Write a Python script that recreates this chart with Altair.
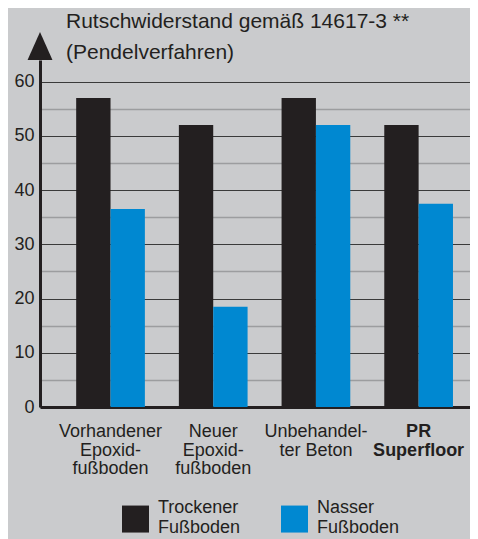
import altair as alt
import pandas as pd

categories = ["Vorhandener Epoxidfußboden", "Neuer Epoxidfußboden", "Unbehandelter Beton", "PR Superfloor"]
category_labels = ["Vorhandener\nEpoxid-\nfußboden", "Neuer\nEpoxid-\nfußboden", "Unbehandel-\nter Beton", "PR\nSuperfloor"]
category_bold = [False, False, False, True]
series = ["Trockener Fußboden", "Nasser Fußboden"]
dry_values = [57, 52, 57, 52]
wet_values = [36.5, 18.5, 52, 37.5]
y_ticks = [0, 5, 10, 15, 20, 25, 30, 35, 40, 45, 50, 55, 60]
title_lines = ["Rutschwiderstand gemäß 14617-3 **", "(Pendelverfahren)"]

FONT = "Liberation Sans"
INK = "#231f20"
BLUE = "#0088d1"
BG = "#cacbcd"

rows = []
for c, d, w in zip(categories, dry_values, wet_values):
    rows.append({"cat": c, "series": series[0], "value": d})
    rows.append({"cat": c, "series": series[1], "value": w})
bars_df = pd.DataFrame(rows)
labels_df = pd.DataFrame({"cat": categories, "label": category_labels, "bold": category_bold})
arrow_df = pd.DataFrame({"a": [0]})

W, H = 430, 347

x_scale = alt.Scale(domain=categories, paddingInner=0.331, paddingOuter=0.259, align=0.68)

bars = alt.Chart(bars_df).mark_bar().encode(
    x=alt.X("cat:N", sort=categories, scale=x_scale,
            axis=alt.Axis(title=None, labels=False, ticks=False, domain=True,
                          domainColor=INK, domainWidth=3, grid=False)),
    xOffset=alt.XOffset("series:N", sort=series, scale=alt.Scale(domain=series, paddingInner=0, paddingOuter=0)),
    y=alt.Y("value:Q", scale=alt.Scale(domain=[0, 64], nice=False),
            axis=alt.Axis(title=None, values=y_ticks, ticks=False, domain=True,
                          domainColor=INK, domainWidth=3,
                          labelExpr="datum.value % 10 === 0 ? datum.label : ''",
                          labelFont=FONT, labelFontSize=18, labelColor=INK, labelPadding=6,
                          grid=True,
                          gridColor={"condition": {"test": "datum.value % 10 === 0", "value": "#3a3a3a"}, "value": "#9c9d9f"},
                          gridWidth={"condition": {"test": "datum.value % 10 === 0", "value": 1.2}, "value": 1.6},
                          gridOpacity=1)),
    color=alt.Color("series:N", sort=series,
                    scale=alt.Scale(domain=series, range=[INK, BLUE]),
                    legend=alt.Legend(title=None, orient="none", legendX=82, legendY=434.5,
                                      direction="horizontal", columns=2, columnPadding=40,
                                      symbolType="M-1,-0.2L1,-0.2L1,1.8L-1,1.8Z",
                                      symbolSize=729, symbolStrokeWidth=0,
                                      symbolOpacity=1, labelOffset=9,
                                      labelExpr="split(datum.label, ' ')",
                                      labelFont=FONT, labelFontSize=18, labelColor=INK,
                                      padding=0)),
)

def label_layer(bold):
    return alt.Chart(labels_df).transform_filter(
        "datum.bold" if bold else "!datum.bold"
    ).mark_text(
        font=FONT, fontSize=18, color=INK, lineBreak="\n", lineHeight=18.5,
        baseline="alphabetic", align="center", fontWeight="bold" if bold else "normal"
    ).encode(
        x=alt.X("cat:N", sort=categories, scale=x_scale),
        y=alt.value(H + 30),
        text="label:N",
    )

arrow = alt.Chart(arrow_df).mark_point(
    shape="M-0.89,1L0,-1L0.89,1Z", filled=True, opacity=1, color=INK, size=784, strokeWidth=0
).encode(
    x=alt.value(0),
    y=alt.value(-14),
)

chart = alt.layer(bars, label_layer(False), label_layer(True), arrow).properties(
    width=W, height=H,
    padding={"left": 32, "top": 52, "right": 0, "bottom": 132},
    autosize=alt.AutoSizeParams(type="none"),
    background=BG,
    title=alt.TitleParams(text=title_lines, anchor="start", frame="group", dx=26, dy=35, offset=4,
                          font=FONT, fontSize=21, fontWeight="normal",
                          color=INK, lineHeight=31),
).configure_view(stroke=None)

chart.save("out.html", embed_options={"renderer": "svg", "actions": False})
